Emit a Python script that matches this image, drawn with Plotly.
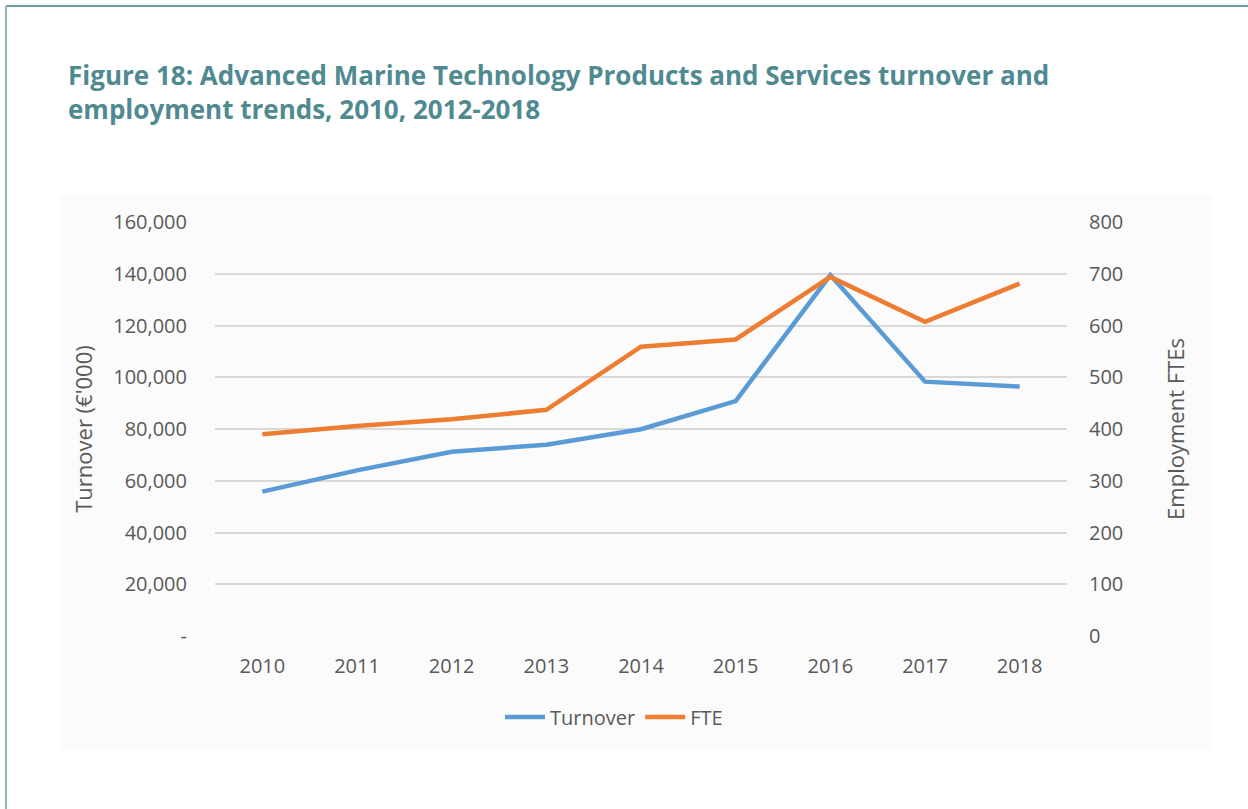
import plotly.graph_objects as go

years = ["2010", "2011", "2012", "2013", "2014", "2015", "2016", "2017", "2018"]
turnover = [55800, 64000, 71200, 73900, 79900, 90800, 139500, 98300, 96400]
fte = [390, 406, 419, 437, 559, 573, 694, 607, 681]

left_ticks = [0, 20000, 40000, 60000, 80000, 100000, 120000, 140000, 160000]
left_labels = ["-", "20,000", "40,000", "60,000", "80,000", "100,000", "120,000", "140,000", "160,000"]
right_ticks = [0, 100, 200, 300, 400, 500, 600, 700, 800]
right_labels = [str(v) for v in right_ticks]

title_text = ("<b>Figure 18: Advanced Marine Technology Products and Services turnover and<br>"
              "employment trends, 2010, 2012-2018</b>")

W, H = 1248, 809
L, R, T, B = 215, 1067, 222, 636

def px(x):
    return (x - L) / (R - L)

def py(y):
    return (B - y) / (B - T)

FONT = "Open Sans"
TXT = "#595959"
TEAL = "#4f8a91"

fig = go.Figure()
fig.add_trace(go.Scatter(x=years, y=turnover, name="Turnover", mode="lines",
                         line=dict(color="#5b9bd5", width=4.5), yaxis="y"))
fig.add_trace(go.Scatter(x=years, y=fte, name="FTE", mode="lines",
                         line=dict(color="#ed7d31", width=4.5), yaxis="y2"))

fig.update_layout(
    width=W, height=H,
    margin=dict(l=L, r=W - R, t=T, b=H - B),
    paper_bgcolor="white", plot_bgcolor="rgba(0,0,0,0)",
    font=dict(family=FONT, size=20, color=TXT),
    xaxis=dict(type="category", range=[-0.5, 8.5], showgrid=False, showline=False,
               ticks="", tickfont=dict(size=20, color=TXT), ticklabelstandoff=16),
    yaxis=dict(range=[0, 160000], tickvals=left_ticks, ticktext=left_labels,
               tickfont=dict(size=20, color=TXT),
               showgrid=True, gridcolor="#d9d9d9", gridwidth=1.5, zeroline=False,
               showline=False, ticks="", ticklabelstandoff=27,
               title=dict(text="Turnover (€'000)", standoff=14, font=dict(size=22, color=TXT))),
    yaxis2=dict(range=[0, 800], tickvals=right_ticks, ticktext=right_labels,
                tickfont=dict(size=20, color=TXT),
                overlaying="y", side="right", showgrid=False, zeroline=False,
                showline=False, ticks="", ticklabelstandoff=21,
                title=dict(text="Employment FTEs", standoff=46, font=dict(size=22, color=TXT))),
    legend=dict(orientation="h", x=px(614), xanchor="center", y=py(717), yanchor="middle",
                font=dict(size=20, color=TXT), bgcolor="rgba(0,0,0,0)", itemwidth=40),
    showlegend=True,
)

annotations = [
    dict(text=title_text, xref="paper", yref="paper", x=px(66), y=py(92),
         xanchor="left", yanchor="middle", align="left", showarrow=False,
         font=dict(family=FONT, size=26, color=TEAL)),
]

shapes = [
    dict(type="rect", xref="paper", yref="paper", x0=px(60), x1=px(1212), y0=py(750), y1=py(195),
         fillcolor="#fbfbfb", line=dict(width=0), layer="below"),
    dict(type="line", xref="paper", yref="paper", x0=px(6), x1=px(1248), y0=py(6), y1=py(6),
         line=dict(color="#6e9fa6", width=2)),
    dict(type="line", xref="paper", yref="paper", x0=px(6), x1=px(6), y0=py(6), y1=py(809),
         line=dict(color="#8fb4ba", width=2)),
]
fig.update_layout(shapes=shapes, annotations=annotations)

fig.write_html("out.html", config={"displayModeBar": False},
               post_script="document.body.style.margin='0px';")
